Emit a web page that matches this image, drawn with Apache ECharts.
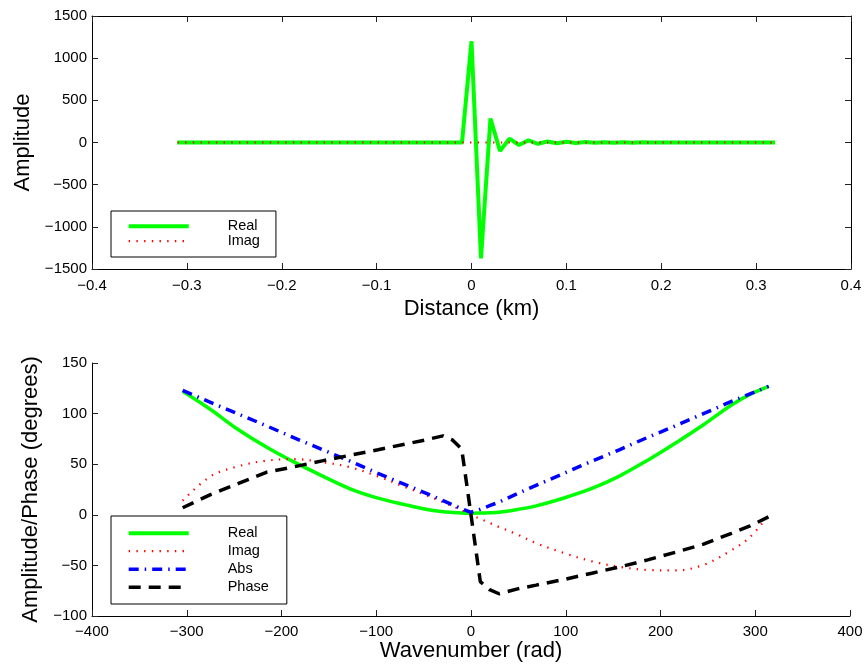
<!DOCTYPE html>
<html>
<head>
<meta charset="utf-8">
<script src="https://cdn.jsdelivr.net/npm/echarts@6/dist/echarts.min.js"></script>
<style>
  html, body { margin: 0; padding: 0; background: #fff; }
  #chart { width: 868px; height: 665px; }
</style>
</head>
<body>
<div id="chart"></div>
<script>
// Spatial signal (top panel)
const distanceKm = [
  -0.31, -0.30, -0.29, -0.28, -0.27, -0.26, -0.25, -0.24, -0.23, -0.22, -0.21,
  -0.20, -0.19, -0.18, -0.17, -0.16, -0.15, -0.14, -0.13, -0.12, -0.11,
  -0.10, -0.09, -0.08, -0.07, -0.06, -0.05, -0.04, -0.03, -0.02, -0.01,
  0.00, 0.01, 0.02, 0.03, 0.04, 0.05, 0.06, 0.07, 0.08, 0.09, 0.10,
  0.11, 0.12, 0.13, 0.14, 0.15, 0.16, 0.17, 0.18, 0.19, 0.20,
  0.21, 0.22, 0.23, 0.24, 0.25, 0.26, 0.27, 0.28, 0.29, 0.30, 0.31, 0.32
];
const realSignal = [
  0, 0, 0, 0, 0, 0, 0, 0, 0, 0, 0,
  0, 0, 0, 0, 0, 0, 0, 0, 0, 0,
  0, 0, 0, 0, 0, 0, 0, 0, 0, 0,
  1200, -1375, 285, -100, 45, -30, 25, -15, 12, -8, 8,
  -5, 5, -3, 4, -2, 3, -2, 2, -1, 1,
  -1, 1, -1, 1, -1, 1, -1, 1, -1, 1, -1, 0
];
const imagSignal = [
  0, 0, 0, 0, 0, 0, 0, 0, 0, 0, 0,
  0, 0, 0, 0, 0, 0, 0, 0, 0, 0,
  0, 0, 0, 0, 0, 0, 0, 0, 0, 0,
  0, 0, 0, 0, 0, 0, 0, 0, 0, 0, 0,
  0, 0, 0, 0, 0, 0, 0, 0, 0, 0,
  0, 0, 0, 0, 0, 0, 0, 0, 0, 0, 0, 0
];

// Spectrum (bottom panel)
const wavenumber = [
  -304.3, -274.9, -245.4, -216.0, -186.5, -157.1, -127.6, -98.2, -68.7, -49.1,
  -29.5, -19.6, -9.8, 0, 9.8, 19.6, 29.5, 49.1, 68.7, 98.2,
  127.6, 157.1, 186.5, 216.0, 245.4, 274.9, 294.5, 314.2
];
const realSpec = [
  122, 104, 84, 67, 52, 38.5, 25.7, 16.5, 9.8, 5.8,
  3.0, 2.3, 1.8, 1.6, 1.7, 2.0, 2.5, 5.3, 8.8, 16.6,
  26, 38.5, 54, 71, 89, 108.5, 119, 127
];
const imagSpec = [
  14, 38, 48, 53.5, 55, 52, 47, 38, 27, 20,
  12.5, 8.5, 4.5, 0, -4, -8, -12, -19.5, -28, -37.8,
  -46, -51.5, -54.5, -55, -49.5, -35, -22, 0
];
const absSpec = [
  123, 111, 99.5, 88, 76, 64.5, 53, 41, 29.5, 22,
  14, 10, 6, 2.5, 5.5, 9, 12.5, 21, 29, 41,
  53, 64.5, 76.5, 88, 100, 112, 119.5, 127
];
const phaseSpec = [
  7, 20, 31, 42, 47.5, 53.3, 58.8, 64.3, 70, 73.8,
  78, 74, 65, 0, -66, -74, -78, -73.2, -69.5, -63.9,
  -57.7, -51.5, -44.5, -37, -29, -18.3, -11, -2
];

const topLegendNames = ['Real', 'Imag'];
const bottomLegendNames = ['Real', 'Imag', 'Abs', 'Phase'];

const FONT = '"Liberation Sans", Arial, Helvetica, sans-serif';
const pairs = (xs, ys) => xs.map((x, i) => [x, ys[i]]);
const fmt = v => String(Number(Number(v).toFixed(2))).replace('-', '\u2212');

function axisBase(extra) {
  return Object.assign({
    type: 'value',
    axisLine: { show: true, onZero: false, lineStyle: { color: '#000', width: 1 } },
    axisTick: { show: true, inside: true, length: 6, lineStyle: { color: '#222', width: 1 } },
    axisLabel: { color: '#000', fontFamily: FONT, fontSize: 15, formatter: fmt },
    splitLine: { show: false },
    nameTextStyle: { color: '#000', fontFamily: FONT, fontSize: 22 }
  }, extra);
}

const styles = {
  Real: w => ({ color: '#00ff00', width: w, type: 'solid' }),
  Imag: () => ({ color: '#ff0000', width: 2.2, type: [1.4, 6.3] }),
  Abs: () => ({ color: '#0000ff', width: 3.5, type: [10, 6, 1.5, 6] }),
  Phase: () => ({ color: '#000000', width: 3.5, type: [12, 8] })
};

function lineSeries(name, data, xi, yi, ls, smooth) {
  return {
    name: name,
    type: 'line',
    xAxisIndex: xi,
    yAxisIndex: yi,
    data: data,
    symbol: 'none',
    showSymbol: false,
    smooth: smooth || false,
    lineStyle: ls,
    itemStyle: { color: ls.color },
    emphasis: { disabled: true }
  };
}

function legendBox(names, realWidth, top, pad, gap) {
  return {
    orient: 'vertical',
    left: 111,
    top: top,
    padding: pad,
    itemGap: gap,
    itemWidth: 60,
    itemHeight: 12,
    backgroundColor: '#fff',
    borderColor: '#000',
    borderWidth: 1,
    selectedMode: false,
    z: 10,
    itemStyle: { opacity: 0 },
    textStyle: { color: '#000', fontFamily: FONT, fontSize: 14.5, lineHeight: 14, padding: [0, 0, 0, 34] },
    data: names.map(n => ({
      name: n,
      itemStyle: { opacity: 0 },
      lineStyle: n === 'Real' ? styles.Real(realWidth) : styles[n]()
    }))
  };
}

const chart = echarts.init(document.getElementById('chart'), null, { renderer: 'canvas' });

chart.setOption({
  animation: false,
  backgroundColor: '#fff',
  grid: [
    { left: 92, top: 16, width: 759, height: 253 },
    { left: 92, top: 363, width: 758, height: 253 }
  ],
  legend: [
    legendBox(topLegendNames, 4, 211, [7.7, 16, 8.3, 15.7], 0),
    legendBox(bottomLegendNames, 4, 516, [9.7, 18, 9.3, 15.7], 3)
  ],
  xAxis: [
    axisBase({ gridIndex: 0, min: -0.4, max: 0.4, interval: 0.1, position: 'bottom',
      name: 'Distance (km)', nameLocation: 'middle', nameGap: 29,
      axisLabel: { color: '#000', fontFamily: FONT, fontSize: 15, margin: 9, formatter: fmt } }),
    axisBase({ gridIndex: 0, min: -0.4, max: 0.4, interval: 0.1, position: 'top',
      axisLabel: { show: false } }),
    axisBase({ gridIndex: 1, min: -400, max: 400, interval: 100, position: 'bottom',
      name: 'Wavenumber (rad)', nameLocation: 'middle', nameGap: 23,
      axisLabel: { color: '#000', fontFamily: FONT, fontSize: 15, margin: 8, formatter: fmt } })
  ],
  yAxis: [
    axisBase({ gridIndex: 0, min: -1500, max: 1500, interval: 500, position: 'left',
      name: 'Amplitude', nameLocation: 'middle', nameGap: 57,
      axisLabel: { color: '#000', fontFamily: FONT, fontSize: 15, margin: 5, formatter: fmt } }),
    axisBase({ gridIndex: 0, min: -1500, max: 1500, interval: 500, position: 'right',
      axisLabel: { show: false } }),
    axisBase({ gridIndex: 1, min: -100, max: 150, interval: 50, position: 'left',
      name: 'Amplitude/Phase (degrees)', nameLocation: 'middle', nameGap: 45,
      axisLabel: { color: '#000', fontFamily: FONT, fontSize: 15, margin: 5, formatter: fmt } })
  ],
  series: [
    lineSeries('Real', pairs(distanceKm, realSignal), 0, 0, styles.Real(4)),
    lineSeries('Imag', pairs(distanceKm, imagSignal), 0, 0, styles.Imag()),
    lineSeries('Real', pairs(wavenumber, realSpec), 2, 2, styles.Real(3.5), 0.35),
    lineSeries('Imag', pairs(wavenumber, imagSpec), 2, 2, styles.Imag(), 0.35),
    lineSeries('Abs', pairs(wavenumber, absSpec), 2, 2, styles.Abs()),
    lineSeries('Phase', pairs(wavenumber, phaseSpec), 2, 2, styles.Phase())
  ]
});
</script>
</body>
</html>
